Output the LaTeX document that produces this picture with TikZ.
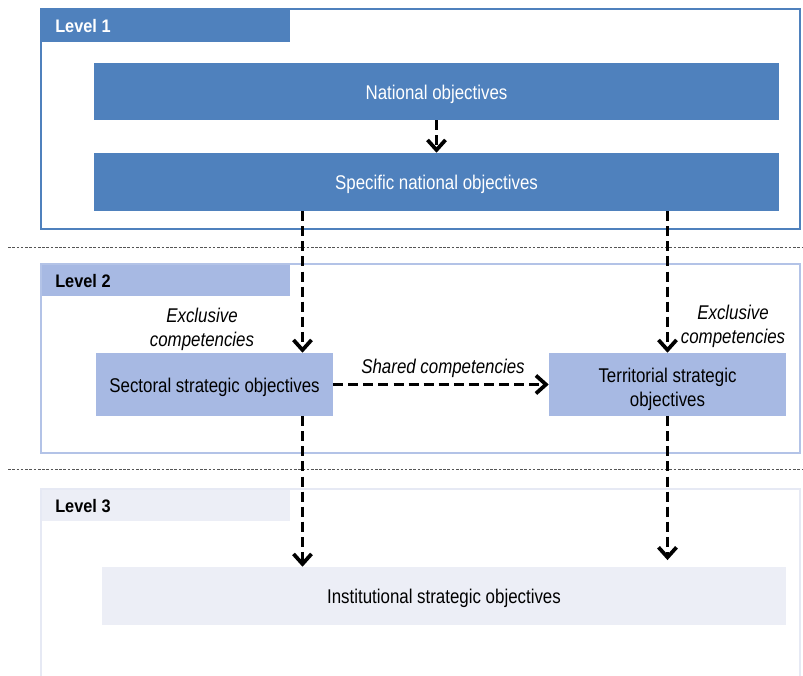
\documentclass[tikz,border=0pt]{standalone}
\usepackage{fontspec}
\setmainfont{Liberation Sans}[FakeStretch=0.85]
\newfontfamily\hdrfont{Liberation Sans}[FakeStretch=0.9]
\usetikzlibrary{arrows.meta}
\definecolor{lvlone}{HTML}{4F81BD}
\definecolor{lvltwo}{HTML}{A7B9E3}
\definecolor{lvltwoframe}{HTML}{B3C3E7}
\definecolor{lvlthree}{HTML}{ECEEF6}
\definecolor{lvlthreeframe}{HTML}{E6E9F4}
\definecolor{sepgray}{HTML}{555555}
\begin{document}
\begin{tikzpicture}[x=0.75pt,y=-0.75pt,
  every node/.style={font=\fontsize{14.9}{18.5}\selectfont},
  objbox/.style={rectangle,inner sep=0pt,align=center},
  onelinebox/.style={objbox,text height=0.72em+4.5pt,text depth=0pt},
  hdrtext/.style={anchor=west,inner sep=0pt,font=\hdrfont\fontsize{13.6}{15}\selectfont\bfseries},
  lbl/.style={align=center,inner sep=0pt,font=\fontsize{14.9}{18.5}\selectfont\itshape},
  arr/.style={line width=2.9pt,dash pattern=on 7.5pt off 3.8pt,
    -{Straight Barb[length=7.5pt,width=13.5pt,line width=2.8pt]}},
  sepline/.style={sepgray,line width=0.6pt,dash pattern=on 2pt off 1.2pt}]
\useasboundingbox (0,0) rectangle (803,675);

% level 1 frame and header
\draw[lvlone,line width=1.5pt] (41,9) rectangle (800,229);
\fill[lvlone] (42,10) rectangle (290,42);
\node[hdrtext,text=white] (l1) at (55,26) {Level 1};

% level 2 frame and header
\draw[lvltwoframe,line width=1.5pt] (41,264) rectangle (800,453);
\fill[lvltwo] (42,265) rectangle (290,296);
\node[hdrtext] (l2) at (55,281) {Level 2};

% level 3 frame (open at the bottom) and header
\draw[lvlthreeframe,line width=1.5pt] (41,680) -- (41,489) -- (800,489) -- (800,680);
\fill[lvlthree] (42,490) rectangle (290,521);
\node[hdrtext] (l3) at (55,506) {Level 3};

% separators between levels
\draw[sepline] (8,247) -- (803,247);
\draw[sepline] (8,469) -- (803,469);

% objective boxes
\node[onelinebox,fill=lvlone,text=white,minimum width={685*0.75pt},minimum height={57*0.75pt}]
  (nat) at (436.5,91.5) {National objectives};
\node[onelinebox,fill=lvlone,text=white,minimum width={685*0.75pt},minimum height={58*0.75pt}]
  (spec) at (436.5,182) {Specific national objectives};
\node[onelinebox,fill=lvltwo,minimum width={237*0.75pt},minimum height={63*0.75pt}]
  (sect) at (214.5,384.5) {Sectoral strategic objectives};
\node[objbox,fill=lvltwo,minimum width={237*0.75pt},minimum height={63*0.75pt}]
  (terr) at (667.5,384.5)
  {\raisebox{-3.8pt}[\height][\depth]{\begin{tabular}{@{}c@{}}Territorial strategic\\objectives\end{tabular}}};
\node[onelinebox,fill=lvlthree,minimum width={684*0.75pt},minimum height={58*0.75pt}]
  (inst) at (444,596) {Institutional strategic objectives};

% column of the left vertical connectors
\coordinate (colL) at (302.5,0);

% connectors
\draw[arr] (nat.south) -- (spec.north);
\draw[arr] (spec.south -| colL) -- (sect.north -| colL);
\draw[arr] (spec.south -| terr.north) -- (terr.north);
\draw[arr] (sect.east) -- (terr.west);
\draw[arr] (sect.south -| colL) -- (inst.north -| colL);
\draw[arr,shorten >=5pt] (terr.south) -- (inst.north -| terr.south);

% connector labels
\node[lbl] (exl) at (202,329.5) {Exclusive\\competencies};
\node[lbl] (exr) at (733,326.5) {Exclusive\\competencies};
\node[lbl] (shr) at (443,368.5) {Shared competencies};
\end{tikzpicture}
\end{document}
